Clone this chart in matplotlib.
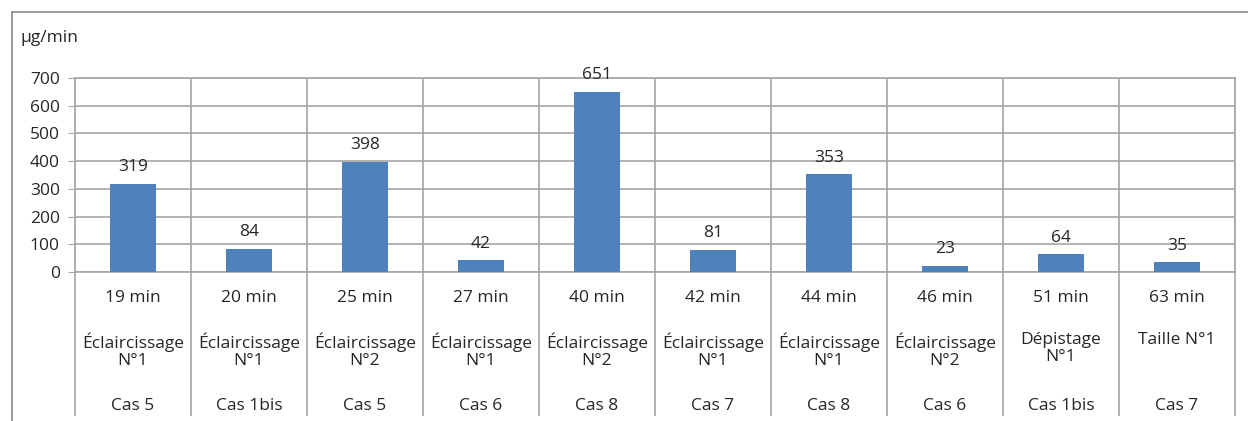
import matplotlib
matplotlib.use('Agg')
import matplotlib.pyplot as plt
from matplotlib.lines import Line2D
import numpy as np

plt.rcParams['font.family'] = ['Open Sans', 'DejaVu Sans']

# données
durees = ['19 min', '20 min', '25 min', '27 min', '40 min',
          '42 min', '44 min', '46 min', '51 min', '63 min']
operations = ['Éclaircissage\nN°1', 'Éclaircissage\nN°1', 'Éclaircissage\nN°2',
              'Éclaircissage\nN°1', 'Éclaircissage\nN°2', 'Éclaircissage\nN°1',
              'Éclaircissage\nN°1', 'Éclaircissage\nN°2', 'Dépistage\nN°1',
              'Taille N°1']
cas = ['Cas 5', 'Cas 1bis', 'Cas 5', 'Cas 6', 'Cas 8',
       'Cas 7', 'Cas 8', 'Cas 6', 'Cas 1bis', 'Cas 7']
valeurs = [319, 84, 398, 42, 651, 81, 353, 23, 64, 35]

W, H = 1248, 421
grille = '#a6a6a6'
texte = '#262626'
fs = 12.5

fig = plt.figure(figsize=(W / 100, H / 100), dpi=100)
ax = fig.add_axes([75 / W, (H - 272) / H, 1160 / W, 194 / H])

x = np.arange(len(valeurs))
ax.bar(x, valeurs, width=0.4, color='#4f81bd', zorder=3)
for xi, v in zip(x, valeurs):
    ax.annotate(str(v), (xi, v), xytext=(0, 6), textcoords='offset points',
                ha='center', va='bottom', fontsize=fs, color=texte)

ax.set_xlim(-0.5, len(valeurs) - 0.5)
ax.set_ylim(0, 700)
ax.set_yticks(np.arange(0, 701, 100))
ax.yaxis.grid(True, color=grille, lw=1.2, zorder=0)
ax.tick_params(axis='y', length=5, color=grille, labelsize=fs, labelcolor=texte, pad=6)

# séparateurs des catégories (grille + traits sous l'axe)
ax.set_xticks([])
ax.set_xticks(np.arange(-0.5, len(valeurs)), minor=True)
ax.xaxis.grid(True, which='minor', color=grille, lw=1.2, zorder=0)
ax.tick_params(axis='x', which='minor', length=104, width=1.2, color=grille,
               labelbottom=False)

for s in ax.spines.values():
    s.set_color(grille)
    s.set_linewidth(1.2)

tr = ax.get_xaxis_transform()
for xi in x:
    ax.text(xi, -26 / 194, durees[xi], transform=tr, ha='center', va='center',
            fontsize=fs, color=texte)
    ax.text(xi, -60 / 194, operations[xi], transform=tr, ha='center', va='top',
            fontsize=fs, color=texte, linespacing=1.1)
    ax.text(xi, -134 / 194, cas[xi], transform=tr, ha='center', va='center',
            fontsize=fs, color=texte)

fig.text(20 / W, 1 - 38 / H, 'µg/min', ha='left', va='center',
         fontsize=fs, color=texte)

# cadre du graphique
fig.add_artist(Line2D([12 / W, 1], [1 - 12 / H, 1 - 12 / H],
                      transform=fig.transFigure, color='#8c8c8c', lw=1.2))
fig.add_artist(Line2D([12 / W, 12 / W], [0, 1 - 12 / H],
                      transform=fig.transFigure, color='#8c8c8c', lw=1.2))

fig.savefig('out.png', dpi=100)
